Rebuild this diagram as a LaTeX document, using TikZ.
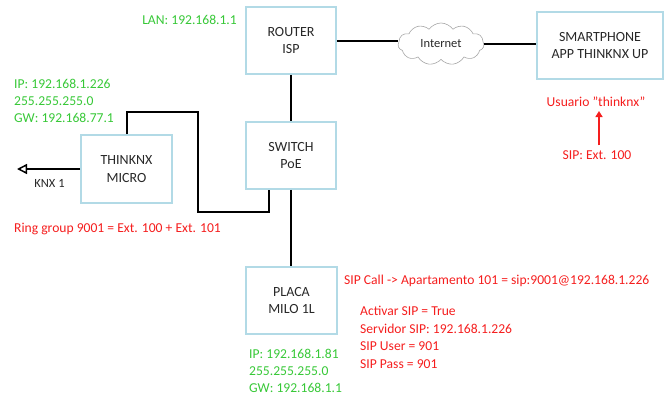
\documentclass[tikz,border=0pt]{standalone}
\usepackage{fontspec}
\setmainfont{Carlito}
\usetikzlibrary{shapes.symbols,arrows.meta}
\definecolor{boxblue}{RGB}{178,218,230}
\definecolor{grn}{RGB}{55,200,55}
\definecolor{rd}{RGB}{245,30,30}
\definecolor{txt}{RGB}{40,40,40}
\tikzset{
  dev/.style={draw=boxblue,line width=1.8pt,fill=white,align=center,text=txt,font=\fontsize{14}{17.5}\selectfont,inner sep=0pt},
  gtxt/.style={text=grn,font=\fontsize{13.6}{17}\selectfont,align=left,inner sep=0pt},
  rtxt/.style={text=rd,font=\fontsize{13.6}{17.5}\selectfont,align=left,inner sep=0pt},
  wire/.style={line width=1.6pt,black},
}
\begin{document}
\begin{tikzpicture}[x=1pt,y=-1pt]
\useasboundingbox (0,0) rectangle (665,400);
\node[dev,minimum width=90pt,minimum height=67pt] (router) at (291,40.5) {ROUTER\\ISP};
\node[dev,minimum width=126pt,minimum height=67pt] (phone) at (600,45.5) {SMARTPHONE\\APP THINKNX UP};
\node[draw=gray!70,line width=0.6pt,cloud,cloud puffs=11,cloud puff arc=110,aspect=2.2,minimum width=86pt,minimum height=42pt,inner sep=0pt,font=\fontsize{12.5}{14}\selectfont,text=txt] (cloud) at (441,44) {Internet};
\node[dev,minimum width=90pt,minimum height=67pt] (switch) at (291,155.5) {SWITCH\\PoE};
\node[dev,minimum width=91pt,minimum height=68pt] (micro) at (126.5,169) {THINKNX\\MICRO};
\node[dev,minimum width=91pt,minimum height=67pt] (placa) at (291.5,300.5) {PLACA\\MILO 1L};

\draw[wire] (router.east |- 0,41) -- (cloud.west |- 0,41);
\draw[wire] (cloud.east |- 0,44) -- (phone.west |- 0,44);
\draw[wire] (router.south) -- (switch.north);
\draw[wire] (switch.south) -- (switch.south |- placa.north);
\coordinate (m1) at (127,112);
\coordinate (m2) at (198,112);
\coordinate (m3) at (198,212);
\coordinate (m4) at (269,212);
\draw[wire] (micro.north -| m1) -- (m1) -- (m2) -- (m3) -- (m4) -- (switch.south -| m4);
\coordinate (knx) at (17,169);
\draw[wire,-{Triangle[open,length=10pt,width=10pt,line width=1.5pt]}] (micro.west |- knx) -- (knx);
\node[font=\fontsize{12.5}{14}\selectfont,text=txt,inner sep=0pt] (knxl) at (49.5,183) {KNX 1};

\node[gtxt,anchor=east] (lan) at (237,20) {LAN: 192.168.1.1};
\node[gtxt,anchor=north west] (mip) at (14,79) {IP: 192.168.1.226\\255.255.255.0\\GW: 192.168.77.1};
\node[rtxt,anchor=west] (ring) at (14,229) {Ring group 9001 = Ext. 100 + Ext. 101};
\node[rtxt,anchor=center] (user) at (596,102) {Usuario "thinknx"};
\node[rtxt,anchor=center] (ext) at (597,155) {SIP: Ext. 100};
\coordinate (atop) at (599,111);
\draw[rd,line width=1.8pt,-{Triangle[length=6pt,width=7pt]}] (ext.north -| atop) ++(0,-5) -- (atop);
\node[rtxt,anchor=west] (call) at (344,281) {SIP Call -> Apartamento 101 = sip:9001@192.168.1.226};
\node[rtxt,anchor=north west] (cfg) at (360,306) {Activar SIP = True\\Servidor SIP: 192.168.1.226\\SIP User = 901\\SIP Pass = 901};
\node[gtxt,anchor=north west] (pip) at (249,349) {IP: 192.168.1.81\\255.255.255.0\\GW: 192.168.1.1};
\end{tikzpicture}
\end{document}
